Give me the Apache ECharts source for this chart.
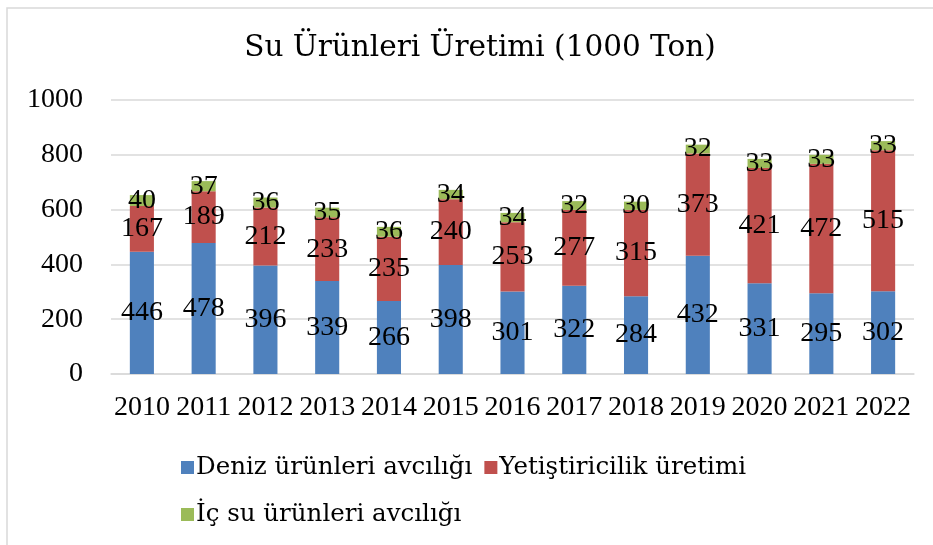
<!DOCTYPE html>
<html>
<head>
<meta charset="utf-8">
<script src="https://cdn.jsdelivr.net/npm/echarts@6/dist/echarts.min.js"></script>
<style>
  html, body { margin: 0; padding: 0; background: #fff; }
  #chart { width: 933px; height: 545px; }
</style>
</head>
<body>
<div id="chart"></div>
<script>
var years = ['2010', '2011', '2012', '2013', '2014', '2015', '2016', '2017', '2018', '2019', '2020', '2021', '2022'];
var denizAvcilik = [446, 478, 396, 339, 266, 398, 301, 322, 284, 432, 331, 295, 302];
var yetistiricilik = [167, 189, 212, 233, 235, 240, 253, 277, 315, 373, 421, 472, 515];
var icSuAvcilik = [40, 37, 36, 35, 36, 34, 34, 32, 30, 32, 33, 33, 33];
var yTicks = [0, 200, 400, 600, 800, 1000];

var textFont = 'DejaVu Serif';
var numFont = 'Liberation Serif';

var chart = echarts.init(document.getElementById('chart'));

var makeSeries = function (name, data, color) {
  return {
    name: name,
    type: 'bar',
    stack: 'toplam',
    barWidth: '39%',
    data: data,
    itemStyle: { color: color },
    label: {
      show: true,
      position: 'inside',
      color: '#000',
      fontFamily: numFont,
      fontSize: 28
    }
  };
};

var legendBase = function (top, names) {
  return {
    left: 176,
    top: top,
    itemWidth: 13,
    itemHeight: 13,
    itemGap: 12,
    icon: 'rect',
    textStyle: { fontFamily: textFont, fontSize: 24.5, color: '#000', padding: [0, 0, 0, -3] },
    data: names
  };
};

chart.setOption({
  animation: false,
  backgroundColor: '#fff',
  graphic: [{
    type: 'rect',
    shape: { x: 7, y: 8, width: 940, height: 560 },
    style: { fill: 'none', stroke: '#D9D9D9', lineWidth: 1.5 },
    silent: true
  }],
  title: {
    text: 'Su Ürünleri Üretimi (1000 Ton)',
    left: 475,
    textAlign: 'center',
    top: 28,
    textStyle: { fontFamily: textFont, fontWeight: 'normal', fontSize: 29.5, color: '#000' }
  },
  legend: [
    legendBase(450, ['Deniz ürünleri avcılığı', 'Yetiştiricilik üretimi']),
    legendBase(497, ['İç su ürünleri avcılığı'])
  ],
  grid: { left: 111, right: 19, top: 100, bottom: 171, containLabel: false },
  xAxis: {
    type: 'category',
    data: years,
    axisLine: { lineStyle: { color: '#D9D9D9', width: 1.5 } },
    axisTick: { show: false },
    axisLabel: { interval: 0, fontFamily: numFont, fontSize: 28, color: '#000', margin: 20 }
  },
  yAxis: {
    type: 'value',
    min: yTicks[0],
    max: yTicks[yTicks.length - 1],
    interval: 200,
    axisLine: { show: false },
    axisTick: { show: false },
    splitLine: { lineStyle: { color: '#D9D9D9', width: 1.5 } },
    axisLabel: {
      fontFamily: numFont, fontSize: 28, color: '#000', margin: 28,
      formatter: function (v) { return String(v); }
    }
  },
  series: [
    makeSeries('Deniz ürünleri avcılığı', denizAvcilik, '#4F81BD'),
    makeSeries('Yetiştiricilik üretimi', yetistiricilik, '#C0504D'),
    makeSeries('İç su ürünleri avcılığı', icSuAvcilik, '#9BBB59')
  ]
});
</script>
</body>
</html>
